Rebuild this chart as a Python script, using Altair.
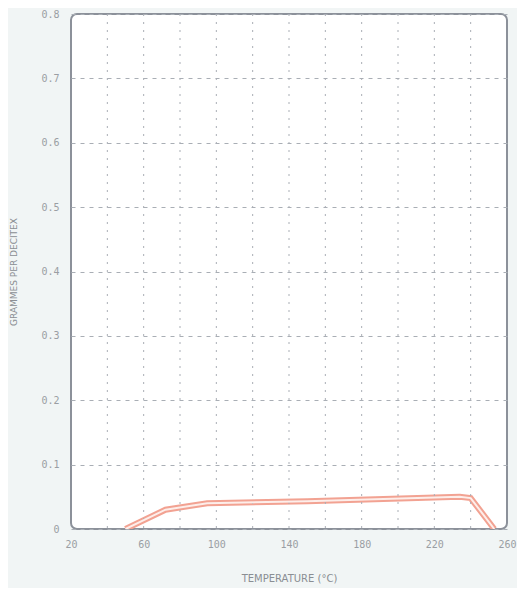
import altair as alt
import pandas as pd

temperature = [50, 72, 95, 150, 234, 240, 253]
grammes = [0.0, 0.030, 0.040, 0.043, 0.050, 0.048, 0.0]

x_ticks = [20, 40, 60, 80, 100, 120, 140, 160, 180, 200, 220, 240, 260]
x_labels = [20, 60, 100, 140, 180, 220, 260]
y_ticks = [0, 0.1, 0.2, 0.3, 0.4, 0.5, 0.6, 0.7, 0.8]

df = pd.DataFrame({"t": temperature, "g": grammes})
grid_df = pd.DataFrame({"t": x_ticks[1:-1]})

label_color = "#9a9ea3"
grid_color = "#a9aeb5"

x_enc = alt.X(
    "t:Q",
    scale=alt.Scale(domain=[20, 260], nice=False, zero=False),
    axis=alt.Axis(
        values=x_labels,
        title="TEMPERATURE (°C)",
        titleFontSize=10,
        titleFontWeight="normal",
        titleColor="#8a8e93",
        titlePadding=24,
        labelColor=label_color,
        labelFontSize=10,
        labelPadding=10,
        ticks=False,
        domain=False,
        grid=False,
        labelFlush=False,
    ),
)
y_enc = alt.Y(
    "g:Q",
    scale=alt.Scale(domain=[0, 0.8], nice=False),
    axis=alt.Axis(
        values=y_ticks,
        labelExpr="datum.value == 0 ? '0' : format(datum.value, '.1f')",
        title="GRAMMES PER DECITEX",
        titleFontSize=9,
        titleFontWeight="normal",
        titleColor="#8a8e93",
        titlePadding=22,
        labelColor=label_color,
        labelFontSize=10,
        labelPadding=12,
        ticks=False,
        domain=False,
        grid=True,
        gridDash=[4, 5],
        gridColor=grid_color,
        gridWidth=1,
    ),
)

vgrid = alt.Chart(grid_df).mark_rule(color=grid_color, strokeDash=[2, 6], strokeWidth=1).encode(x="t:Q")
outer = alt.Chart(df).mark_line(color="#f2a292", strokeWidth=6, clip=True).encode(x=x_enc, y=y_enc)
inner = alt.Chart(df).mark_line(color="#fdeeea", strokeWidth=2, clip=True).encode(x="t:Q", y="g:Q")

chart = (
    alt.layer(outer, vgrid, inner)
    .properties(
        width=436,
        height=515,
        background="#f1f5f5",
        padding={"left": 63, "top": 6, "right": 10, "bottom": 59},
        autosize=alt.AutoSizeParams(type="none"),
    )
    .configure_view(stroke="#8c919a", strokeWidth=2, cornerRadius=6, fill="#ffffff")
    .configure_axis(labelFont="DejaVu Sans Mono", titleFont="DejaVu Sans")
)

chart.save("out.html", embed_options={"renderer": "svg", "actions": False})
